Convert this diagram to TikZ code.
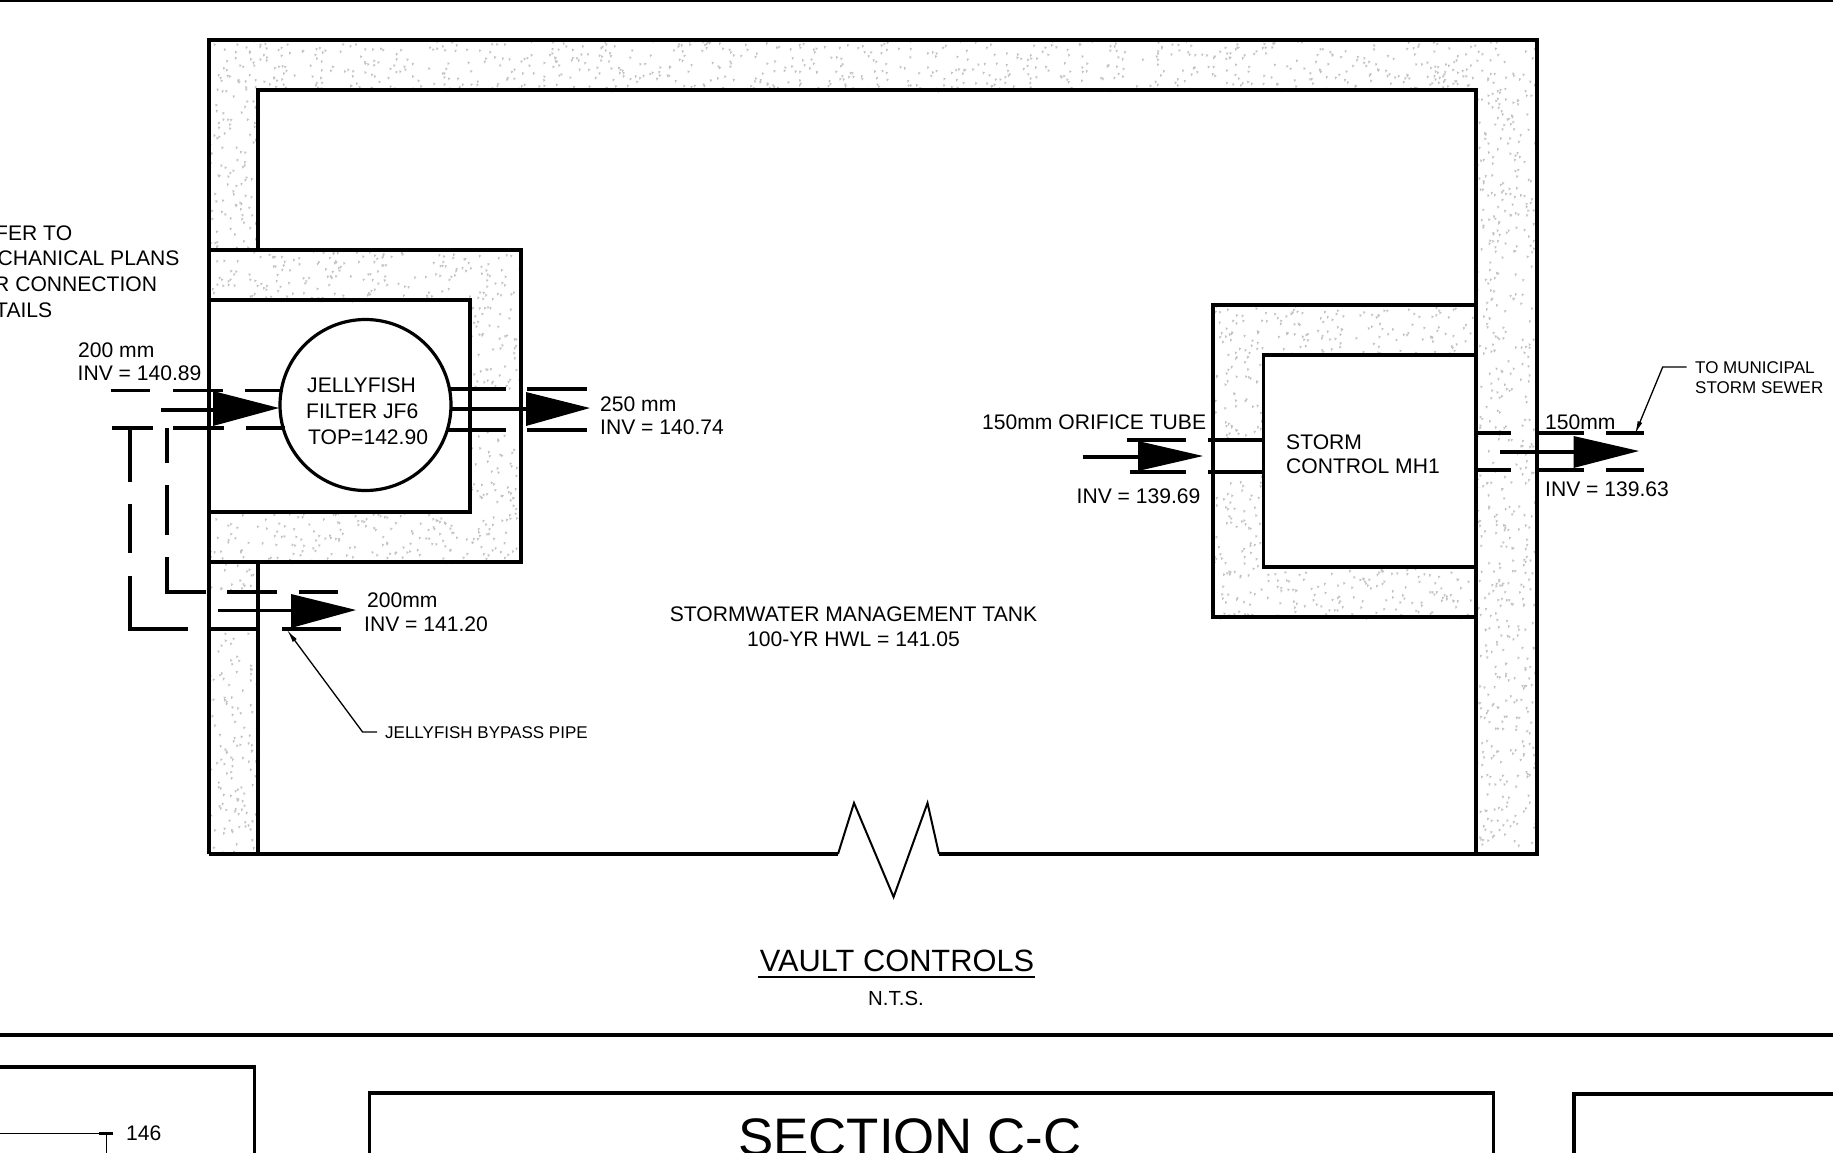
\documentclass[tikz,border=0pt]{standalone}
\usepackage{fontspec}
\setmainfont{Liberation Sans}
\usetikzlibrary{arrows.meta}
\tikzset{
	wall/.style={line width=3.2pt,line join=miter},
	pipe/.style={line width=3.6pt},
	thinpipe/.style={line width=3.1pt},
	leader/.style={line width=1.3pt},
	speck/.style={fill=black!24},
	lbl/.style={inner sep=0pt,anchor=west,text height=15pt,text depth=0pt,font=\fontsize{21.1}{25}\selectfont},
	smalllbl/.style={lbl,text height=12pt,font=\fontsize{17}{20}\selectfont},
	ctrlbl/.style={lbl,anchor=center},
}
% random concrete specks in a rectangle: x1,y1,x2,y2,count
\newcommand{\concrete}[5]{%
	\foreach \n in {1,...,#5}{%
		\pgfmathsetmacro\px{#1+rnd*(#3-#1)}
		\pgfmathsetmacro\py{#2+rnd*(#4-#2)}
		\fill[speck] (\px,\py) -- +(2.4,0.8) -- +(0.4,3) -- cycle;
	}%
}
\begin{document}
\begin{tikzpicture}[x=1pt,y=-1pt]
		\useasboundingbox (0,0) rectangle (1833,1153);
		\pgfmathsetseed{41}
		
		% concrete of the tank walls
		\concrete{209}{40}{1537}{90}{800}
		\concrete{209}{90}{258}{250}{95}
		\concrete{209}{562}{258}{592}{18}
		\concrete{209}{629}{258}{854}{130}
		\concrete{1476}{90}{1537}{854}{560}
		% concrete of the filter chamber
		\concrete{209}{250}{521}{300}{190}
		\concrete{209}{512}{521}{562}{190}
		\concrete{470}{300}{521}{389}{55}
		\concrete{470}{430}{521}{512}{50}
		% concrete of the control chamber
		\concrete{1213}{305}{1476}{355}{160}
		\concrete{1213}{567}{1476}{617}{160}
		\concrete{1213}{355}{1263}{438}{50}
		\concrete{1213}{474}{1263}{567}{55}
		
		% page rules
		\draw[wall] (0,0) -- (1833,0);
		\draw[line width=3.6pt] (0,1035) -- (1833,1035);
		
		% tank outline with break line
		\draw[wall] (258,250) -- (258,90) -- (1476,90) -- (1476,854);
		\draw[wall] (209,854) -- (209,40) -- (1537,40) -- (1537,854) -- (939,854);
		\draw[line width=2pt] (939,854) -- (927.5,803) -- (893.6,897) -- (854,803) -- (838,854);
		\draw[wall] (838,854) -- (209,854);
		\draw[wall] (258,562) -- (258,854);
		
		% filter chamber
		\draw[wall] (209,250) -- (521,250) -- (521,562) -- (209,562);
		\draw[wall] (209,300) -- (470,300) -- (470,512) -- (209,512);
		\node[circle,draw,line width=3.2pt,minimum size=171pt,inner sep=0pt] (filter) at (365.5,405) {};
		\node[lbl] (jelly) at (307,385) {JELLYFISH};
		\node[lbl] (jf) at (306,410.5) {FILTER JF6};
		\node[lbl] (top) at (308,437) {TOP=142.90};
		
		% control chamber
		\draw[wall] (1476,305) -- (1213,305) -- (1213,617) -- (1476,617);
		\draw[wall] (1476,355) -- (1263.5,355) -- (1263.5,567) -- (1476,567);
		\node[lbl] (storm) at (1286,441.5) {STORM};
		\node[lbl] (mh) at (1286,465.5) {CONTROL MH1};
		
		% inlet to the filter
		\foreach \a/\b in {111/150,173/223,245/283} \draw[pipe] (\a,390.5) -- (\b,390.5);
		\foreach \a/\b in {112/153,173/224,246/285} \draw[pipe] (\a,428) -- (\b,428);
		\draw[pipe] (161,410) -- (213,410);
		\fill (213,391) -- (279,408) -- (213,426) -- cycle;
		
		% outlet of the filter
		\draw[pipe] (448,389) -- (506,389);
		\draw[pipe] (527,389) -- (587,389);
		\draw[pipe] (448,430) -- (506,430);
		\draw[pipe] (527,430) -- (587,430);
		\draw[pipe] (451,409) -- (526,409);
		\fill (526,392) -- (590,408) -- (526,426) -- cycle;
		
		% bypass pipe
		\foreach \a/\b in {428/482,504/553} \draw[pipe] (130,\a) -- (130,\b);
		\draw[pipe] (130,576) -- (130,629) -- (188,629);
		\foreach \a/\b in {428/463,485/535} \draw[pipe] (167,\a) -- (167,\b);
		\draw[pipe] (167,557) -- (167,592) -- (206,592);
		\draw[pipe] (227,592) -- (277,592);
		\draw[pipe] (299,592) -- (338,592);
		\draw[pipe] (208,629) -- (259,629);
		\draw[pipe] (282,629) -- (341,629);
		\draw[pipe] (218,610.5) -- (291,610.5);
		\fill (291,594) -- (356,610) -- (291,628) -- cycle;
		
		% orifice tube
		\draw[pipe] (1127,440) -- (1185.5,440);
		\draw[pipe] (1130,472) -- (1185.5,472);
		\draw[pipe] (1208,440) -- (1263,440);
		\draw[pipe] (1208,472) -- (1263,472);
		\draw[pipe] (1082.5,457) -- (1138,457);
		\fill (1138,441) -- (1203,456) -- (1138,471) -- cycle;
		
		% outlet to the sewer
		\draw[thinpipe] (1475,433) -- (1511,433);
		\draw[thinpipe] (1475,470) -- (1511,470);
		\foreach \a/\b in {1535/1584,1606/1644}{
			\draw[pipe] (\a,433) -- (\b,433);
			\draw[pipe] (\a,470) -- (\b,470);
		}
		\draw[pipe] (1500,452) -- (1574,452);
		\fill (1573.5,436) -- (1639,451) -- (1573.5,468) -- cycle;
		
		% labels
		\node[lbl] (refa) at (-5,232.5) {FER TO};
		\node[lbl] (refb) at (-2.5,258) {CHANICAL PLANS};
		\node[lbl] (refc) at (-6,284) {R CONNECTION};
		\node[lbl] (refd) at (-5,310) {TAILS};
		\node[lbl] (insize) at (78,350) {200 mm};
		\node[lbl] (ininv) at (77.5,372.5) {INV = 140.89};
		\node[lbl] (outsize) at (600,404) {250 mm};
		\node[lbl] (outinv) at (600,427) {INV = 140.74};
		\node[lbl] (bysize) at (367,599.5) {200mm};
		\node[lbl] (byinv) at (364,624) {INV = 141.20};
		\node[lbl] (orifice) at (982,421.5) {150mm ORIFICE TUBE};
		\node[lbl] (oriinv) at (1076.5,495.5) {INV = 139.69};
		\node[lbl] (sewsize) at (1545,421.5) {150mm};
		\node[lbl] (sewinv) at (1545,489) {INV = 139.63};
		\node[ctrlbl] (tank) at (853.5,613.5) {STORMWATER MANAGEMENT TANK};
		\node[ctrlbl] (hwl) at (853.5,638.5) {100-YR HWL = 141.05};
		
		% leaders
		\node[smalllbl] (bypass) at (385,732) {JELLYFISH BYPASS PIPE};
		\coordinate (bypasstip) at (287,630);
		\coordinate (bypassend) at (377,732);
		\draw[leader,-{Latex[length=13pt,width=5pt]}] (bypassend) -- (362.6,732) -- (bypasstip);
		\node[smalllbl] (sewa) at (1695,367) {TO MUNICIPAL};
		\node[smalllbl] (sewb) at (1695,387.5) {STORM SEWER};
		\coordinate (sewtip) at (1635,434);
		\coordinate (sewend) at (1686.5,367);
		\draw[leader,-{Latex[length=13pt,width=5pt]}] (sewend) -- (1662.7,367) -- (sewtip);
		
		% title
		\node[ctrlbl,text height=22pt,font=\fontsize{30.8}{36}\selectfont] (title) at (897,960) {VAULT CONTROLS};
		\draw[line width=1.8pt] (758,977) -- (1035,977);
		\node[ctrlbl,text height=14pt,font=\fontsize{20.4}{24}\selectfont] (nts) at (896,998) {N.T.S.};
		
		% bottom boxes
		\draw[wall] (0,1067) -- (254.5,1067) -- (254.5,1160);
		\draw[wall] (369.5,1160) -- (369.5,1093) -- (1493.5,1093) -- (1493.5,1160);
		\draw[wall] (1574,1160) -- (1574,1094) -- (1840,1094);
		\node[ctrlbl,text height=38pt,font=\fontsize{52.8}{60}\selectfont] (section) at (910,1136) {SECTION C-C};
		\draw[line width=1pt] (0,1133.5) -- (113,1133.5);
		\draw[line width=2.6pt] (99,1133.5) -- (113,1133.5);
		\draw[line width=1pt] (106,1133.5) -- (106,1160);
		\node[lbl] (level) at (126,1133) {146};
		
		\end{tikzpicture}
\end{document}
